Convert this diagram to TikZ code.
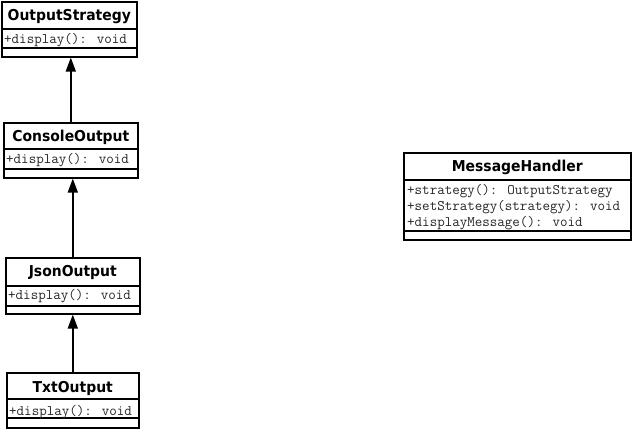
\documentclass[tikz,border=0pt]{standalone}
\usepackage{fontspec}
\usetikzlibrary{arrows.meta}
\newfontfamily\umltitlefont{DejaVu Sans}[BoldFont={DejaVu Sans Bold}]
\newcommand\umlclass[8]{%
  \node[cbox, minimum width=#4, minimum height=#5, anchor=north west] (#1) at (#2,#3) {};
  \draw[cline] ([yshift=-#6]#1.north west) -- ([yshift=-#6]#1.north east);
  \draw[cline] ([yshift=-#7]#1.north west) -- ([yshift=-#7]#1.north east);
  \node[ctitle] (#1-title) at ([yshift=-20pt]#1.north) {\scalebox{0.93}[1]{#8}};
}
\begin{document}
\begin{tikzpicture}[x=1pt,y=-1pt,
  cbox/.style={draw=black, line width=1.6pt, fill=white, inner sep=0pt},
  cline/.style={line width=1.6pt},
  ctitle/.style={font=\umltitlefont\bfseries\fontsize{15}{17}\selectfont, inner sep=0pt, anchor=base},
  cmeth/.style={font=\ttfamily\fontsize{14.6}{16}\selectfont, text=black!85, inner sep=0pt, anchor=base west},
  gen/.style={line width=1.6pt, -{Triangle[width=10pt,length=14pt]}}]
\useasboundingbox (0,0) rectangle (632,430);
\fill[white] (0,0) rectangle (632,430);

\umlclass{os}{1}{1}{135}{55}{28}{47}{OutputStrategy}
\node[cmeth] (os-m1) at ([xshift=3pt,yshift=-43pt]os.north west) {+display(): void};

\umlclass{cons}{3}{122}{134}{55}{27}{47}{ConsoleOutput}
\node[cmeth] (cons-m1) at ([xshift=3pt,yshift=-42pt]cons.north west) {+display(): void};

\umlclass{json}{5}{257}{134}{56}{29}{49}{JsonOutput}
\node[cmeth] (json-m1) at ([xshift=3pt,yshift=-43pt]json.north west) {+display(): void};

\umlclass{txt}{6}{372}{132}{55}{27}{46}{TxtOutput}
\node[cmeth] (txt-m1) at ([xshift=3pt,yshift=-43pt]txt.north west) {+display(): void};

\umlclass{mh}{403}{152}{227}{87}{28}{79}{MessageHandler}
\node[cmeth] (mh-m1) at ([xshift=4pt,yshift=-43pt]mh.north west) {+strategy(): OutputStrategy};
\node[cmeth] (mh-m2) at ([xshift=4pt,yshift=-59pt]mh.north west) {+setStrategy(strategy): void};
\node[cmeth] (mh-m3) at ([xshift=4pt,yshift=-75pt]mh.north west) {+displayMessage(): void};

\draw[gen] (cons.north) -- (cons.north |- os.south);
\draw[gen] (json.north) -- (json.north |- cons.south);
\draw[gen] (txt.north) -- (txt.north |- json.south);
\end{tikzpicture}
\end{document}
